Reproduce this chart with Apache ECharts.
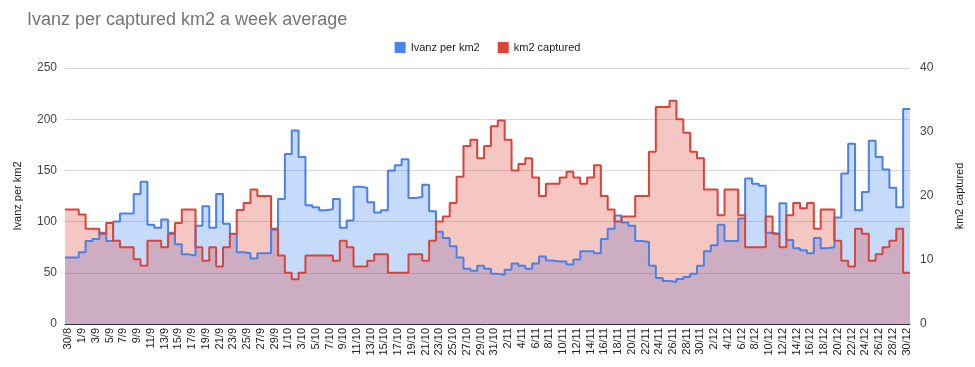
<!DOCTYPE html>
<html>
<head>
<meta charset="utf-8">
<script src="https://cdn.jsdelivr.net/npm/echarts@6/dist/echarts.min.js"></script>
<style>
html,body{margin:0;padding:0;background:#fff;}
#chart{width:975px;height:367px;}
</style>
</head>
<body>
<div id="chart"></div>
<script>
const categories = [
'30/8','31/8',
'1/9','2/9','3/9','4/9','5/9','6/9','7/9','8/9','9/9','10/9','11/9','12/9','13/9','14/9','15/9',
'16/9','17/9','18/9','19/9','20/9','21/9','22/9','23/9','24/9','25/9','26/9','27/9','28/9','29/9','30/9',
'1/10','2/10','3/10','4/10','5/10','6/10','7/10','8/10','9/10','10/10','11/10','12/10','13/10','14/10','15/10',
'16/10','17/10','18/10','19/10','20/10','21/10','22/10','23/10','24/10','25/10','26/10','27/10','28/10','29/10','30/10','31/10',
'1/11','2/11','3/11','4/11','5/11','6/11','7/11','8/11','9/11','10/11','11/11','12/11','13/11','14/11','15/11',
'16/11','17/11','18/11','19/11','20/11','21/11','22/11','23/11','24/11','25/11','26/11','27/11','28/11','29/11','30/11',
'1/12','2/12','3/12','4/12','5/12','6/12','7/12','8/12','9/12','10/12','11/12','12/12','13/12','14/12','15/12',
'16/12','17/12','18/12','19/12','20/12','21/12','22/12','23/12','24/12','25/12','26/12','27/12','28/12','29/12','30/12'
];

const ivanzPerKm2 = [
65,65,70,81,83,89,81,100,108,108,127,139,97,94,102,89,78,68,67,96,
115,94,127,98,88,70,69,64,69,69,92,122,166,189,163,116,114,111,112,122,
94,101,134,133,119,109,111,150,155,161,123,124,136,110,90,84,76,65,54,52,
57,54,49,48,53,59,57,54,59,66,62,61,61,58,63,71,71,69,83,93,
106,99,96,81,80,57,45,42,41,44,46,49,57,71,77,97,81,81,103,142,
137,135,89,88,118,82,74,72,69,84,74,75,104,147,176,111,129,179,163,151,
133,114,210
];

const km2Captured = [
17.9,17.9,17.1,14.9,14.9,14.1,15.8,13.0,12.0,12.0,10.1,9.1,13.0,13.0,12.0,14.1,15.8,17.9,17.9,12.0,
9.9,12.0,9.0,12.0,14.1,17.8,18.9,21.0,20.0,20.0,14.9,10.7,8.0,7.0,8.0,10.7,10.7,10.7,10.7,9.9,
13.0,12.0,9.0,9.0,9.9,10.9,10.9,8.0,8.0,8.0,10.9,10.9,9.9,13.0,16.0,16.8,18.9,23.0,27.8,28.8,
25.9,27.8,30.9,31.8,28.8,24.0,25.0,25.9,22.9,20.0,21.9,21.9,22.9,23.8,22.9,21.9,22.9,24.8,20.0,17.9,
16.0,16.8,16.8,20.0,20.0,26.9,33.9,33.9,34.9,32.0,29.9,26.9,25.9,21.0,21.0,17.0,21.0,21.0,17.0,12.0,
12.0,12.0,16.8,14.1,12.0,17.0,18.9,18.1,18.9,14.9,17.9,17.9,13.0,9.9,9.0,14.9,14.1,9.9,10.9,12.0,
13.0,14.9,8.0
];

const leftTicks = {min: 0, max: 250, interval: 50};
const rightTicks = {min: 0, max: 40, interval: 10};

function stepData(arr) {
  const d = arr.map((v, i) => [i, v]);
  d.push([arr.length, arr[arr.length - 1]]);
  return d;
}

const FONT = 'Liberation Sans, Arial, sans-serif';
const chart = echarts.init(document.getElementById('chart'), null, {renderer: 'canvas'});
chart.setOption({
  animation: false,
  backgroundColor: '#ffffff',
  title: {
    text: 'Ivanz per captured km2 a week average',
    left: 22, top: 6,
    textStyle: {fontFamily: FONT, fontSize: 18, fontWeight: 'normal', color: '#757575'}
  },
  legend: {
    top: 37, left: 'center',
    icon: 'rect', itemWidth: 11, itemHeight: 11, itemGap: 18,
    textStyle: {fontFamily: FONT, fontSize: 11, color: '#222'},
    data: ['Ivanz per km2', 'km2 captured']
  },
  grid: {left: 65, right: 65, top: 68, bottom: 43, containLabel: false},
  xAxis: [
    {
      type: 'category', data: categories, boundaryGap: true,
      axisLine: {show: true, lineStyle: {color: '#333', width: 1}},
      axisTick: {show: false},
      axisLabel: {interval: 1, rotate: 90, fontFamily: FONT, fontSize: 11, color: '#222', margin: 4},
      splitLine: {show: false}
    },
    {
      type: 'value', min: 0, max: categories.length, show: false
    }
  ],
  yAxis: [
    {
      type: 'value', min: leftTicks.min, max: leftTicks.max, interval: leftTicks.interval,
      name: 'Ivanz per km2', nameLocation: 'middle', nameGap: 42, nameRotate: 90,
      nameTextStyle: {fontFamily: FONT, fontSize: 11, color: '#222'},
      axisLine: {show: false}, axisTick: {show: false},
      axisLabel: {fontFamily: FONT, fontSize: 12, color: '#444', margin: 8},
      splitLine: {show: true, lineStyle: {color: '#d6d6d6', width: 1}}
    },
    {
      type: 'value', min: rightTicks.min, max: rightTicks.max, interval: rightTicks.interval,
      position: 'right',
      name: 'km2 captured', nameLocation: 'middle', nameGap: 44, nameRotate: 90,
      nameTextStyle: {fontFamily: FONT, fontSize: 11, color: '#222'},
      axisLine: {show: false}, axisTick: {show: false},
      axisLabel: {fontFamily: FONT, fontSize: 12, color: '#444', margin: 10},
      splitLine: {show: false}
    }
  ],
  series: [
    {
      name: 'Ivanz per km2', type: 'line', xAxisIndex: 1, yAxisIndex: 0,
      step: 'end', showSymbol: false, symbol: 'none',
      data: stepData(ivanzPerKm2),
      itemStyle: {color: '#4285F4'},
      lineStyle: {color: '#4a80e8', width: 2},
      areaStyle: {color: '#4285F4', opacity: 0.3}
    },
    {
      name: 'km2 captured', type: 'line', xAxisIndex: 1, yAxisIndex: 1,
      step: 'end', showSymbol: false, symbol: 'none',
      data: stepData(km2Captured),
      itemStyle: {color: '#DB4437'},
      lineStyle: {color: '#d9443a', width: 2},
      areaStyle: {color: '#DB4437', opacity: 0.3}
    }
  ]
});
</script>
</body>
</html>
